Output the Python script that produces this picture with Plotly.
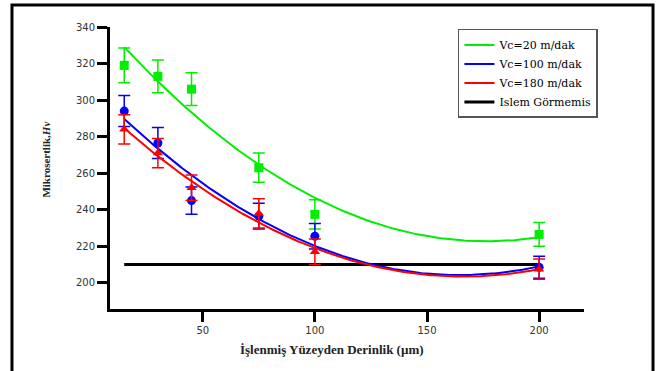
import numpy as np
import plotly.graph_objects as go

# ---- data ----
depth = [15, 30, 45, 75, 100, 200]

vc20 = [319, 313, 306, 263, 237.5, 226.5]
vc20_err = [9.5, 9, 9, 8, 8, 6.5]

vc100 = [294, 276.5, 245, 236.5, 225.5, 208.5]
vc100_err = [8.5, 8.5, 7.5, 7, 7, 6]

vc180 = [284, 271, 252, 238, 217, 207.5]
vc180_err = [8, 8, 7, 8, 7, 5.5]

# quadratic trend-line coefficients (a, b, c)
fit20 = [0.0040843, -1.4403, 349.7]
fit100 = [0.0038143, -1.2563, 307.7]
fit180 = [0.00355, -1.18, 301.5]

untreated_level = 210
untreated_x = [15, 200]

names = ["Vc=20 m/dak", "Vc=100 m/dak", "Vc=180 m/dak", "Islem Görmemis"]
colors = ["#00ee00", "#0000ff", "#ff0000", "#000000"]
symbols = ["square", "circle", "triangle-up"]

xs = np.linspace(depth[0], depth[-1], 200)

fig = go.Figure()

# untreated reference line (drawn first, legend last)
fig.add_trace(go.Scatter(x=untreated_x, y=[untreated_level] * 2, mode="lines",
                         line=dict(color=colors[3], width=3), name=names[3],
                         legendrank=4))

series = [(vc20, vc20_err, fit20), (vc100, vc100_err, fit100), (vc180, vc180_err, fit180)]
for i, (vals, errs, fit) in enumerate(series):
    fig.add_trace(go.Scatter(x=xs, y=np.polyval(fit, xs), mode="lines",
                             line=dict(color=colors[i], width=2), name=names[i],
                             legendrank=i + 1))
    fig.add_trace(go.Scatter(x=depth, y=vals, mode="markers",
                             marker=dict(symbol=symbols[i], color=colors[i], size=9),
                             error_y=dict(type="data", array=errs, visible=True,
                                          color=colors[i], thickness=1.5, width=6),
                             showlegend=False))

fig.update_layout(
    width=660, height=371,
    margin=dict(l=110, r=76, t=27, b=62),
    paper_bgcolor="white", plot_bgcolor="white",
    showlegend=True,
    legend=dict(x=0.734, y=0.993, xanchor="left", yanchor="top",
                bordercolor="#555555", borderwidth=1.5, bgcolor="white",
                font=dict(family="DejaVu Serif", size=11, color="black"),
                itemwidth=30, tracegroupgap=0),
    xaxis=dict(range=[8.65, 220], tickvals=[50, 100, 150, 200],
               showgrid=False, zeroline=False, showline=True,
               linecolor="black", linewidth=3, ticks="outside", ticklen=10,
               tickwidth=3, tickcolor="black",
               tickfont=dict(family="DejaVu Sans", size=10, color="#333333")),
    yaxis=dict(range=[185.7, 340], tickvals=[200, 220, 240, 260, 280, 300, 320, 340],
               showgrid=False, zeroline=False, showline=True,
               linecolor="black", linewidth=3, ticks="outside", ticklen=10,
               tickwidth=3, tickcolor="black",
               tickfont=dict(family="DejaVu Sans", size=10, color="#333333")),
    annotations=[
        dict(text="<b>İşlenmiş Yüzeyden Derinlik (µm)</b>", xref="paper", yref="paper",
             x=0.468, y=-0.142, showarrow=False, xanchor="center", yanchor="middle",
             font=dict(family="Liberation Serif", size=13, color="#222222")),
        dict(text="<b>Mikrosertlik,<i>Hv</i></b>", xref="paper", yref="paper",
             x=-0.137, y=0.53, showarrow=False, textangle=-90,
             xanchor="center", yanchor="middle",
             font=dict(family="Liberation Serif", size=11, color="#222222")),
    ],
    shapes=[dict(type="rect", xref="paper", yref="paper",
                 x0=-0.2068, x1=1.1456, y0=-0.26, y1=1.078,
                 line=dict(color="black", width=3))],
)

fig.write_html("out.html", config={"displayModeBar": False},
               post_script="document.body.style.margin='0';")
